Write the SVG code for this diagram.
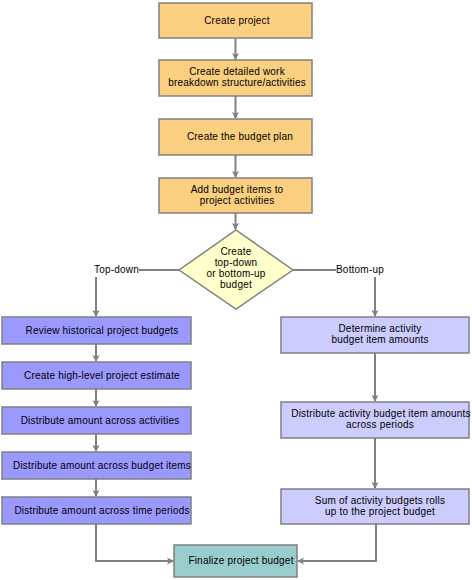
<svg xmlns="http://www.w3.org/2000/svg" width="472" height="580" viewBox="0 0 472 580">
<style>
.box{stroke:#808080;stroke-width:1.5}
.top{fill:#FACF7F}
.td{fill:#9999FF}
.bu{fill:#CCCCFF}
.fin{fill:#99CCCC}
.dia{fill:#FFFFCC}
text{font-family:"Liberation Sans",Arial,sans-serif;font-size:10px;letter-spacing:0.2px;fill:#000;text-anchor:middle}
.lbl{text-anchor:start}
.conn path{fill:none;stroke:#808080;stroke-width:2}
</style>
<defs>
<marker id="arr" markerUnits="userSpaceOnUse" markerWidth="8" markerHeight="8" refX="6" refY="4" orient="auto">
<path d="M0,0.5 L7,4 L0,7.5 L1.5,4 z" fill="#808080"/>
</marker>
</defs>
<rect width="472" height="580" fill="#fff"/>
<g class="conn">
<path d="M235.5,38 V59" marker-end="url(#arr)"/>
<path d="M235.5,96 V118" marker-end="url(#arr)"/>
<path d="M235.5,155 V177" marker-end="url(#arr)"/>
<path d="M235.5,213 V229" marker-end="url(#arr)"/>
<path d="M179,270 H139"/>
<path d="M96,277 V316" marker-end="url(#arr)"/>
<path d="M292,270 H336"/>
<path d="M375,277 V316" marker-end="url(#arr)"/>
<path d="M96,344 V361" marker-end="url(#arr)"/>
<path d="M96,389 V406" marker-end="url(#arr)"/>
<path d="M96,434 V451" marker-end="url(#arr)"/>
<path d="M96,479 V496" marker-end="url(#arr)"/>
<path d="M96,524 V561 H173" marker-end="url(#arr)"/>
<path d="M375,353 V401" marker-end="url(#arr)"/>
<path d="M375,438 V488" marker-end="url(#arr)"/>
<path d="M376,524 V561 H298" marker-end="url(#arr)"/>
</g>
<g id="n1"><rect class="box top" x="159" y="3" width="153" height="35"/><text x="237" y="24">Create project</text></g>
<g id="n2"><rect class="box top" x="159" y="60" width="153" height="36"/><text x="237" y="75">Create detailed work</text><text x="237" y="86">breakdown structure/activities</text></g>
<g id="n3"><rect class="box top" x="159" y="119" width="153" height="36"/><text x="240" y="140">Create the budget plan</text></g>
<g id="n4"><rect class="box top" x="159" y="178" width="153" height="35"/><text x="237" y="193">Add budget items to</text><text x="237" y="204">project activities</text></g>
<g id="n5"><polygon class="box dia" points="236,230 293,270 236,309 179,270"/><text x="236" y="255">Create</text><text x="236" y="266">top-down</text><text x="236" y="277">or bottom-up</text><text x="236" y="288">budget</text></g>
<text class="lbl" x="94" y="273">Top-down</text>
<text class="lbl" x="336" y="273">Bottom-up</text>
<g id="n6"><rect class="box td" x="2" y="317" width="189" height="27"/><text x="102" y="334">Review historical project budgets</text></g>
<g id="n7"><rect class="box td" x="2" y="362" width="189" height="27"/><text x="102" y="379">Create high-level project estimate</text></g>
<g id="n8"><rect class="box td" x="2" y="407" width="189" height="27"/><text x="100" y="424">Distribute amount across activities</text></g>
<g id="n9"><rect class="box td" x="2" y="452" width="189" height="27"/><text x="102" y="469">Distribute amount across budget items</text></g>
<g id="n10"><rect class="box td" x="2" y="497" width="189" height="27"/><text x="102" y="514">Distribute amount across time periods</text></g>
<g id="n11"><rect class="box bu" x="281" y="317" width="188" height="36"/><text x="380" y="332">Determine activity</text><text x="380" y="343">budget item amounts</text></g>
<g id="n12"><rect class="box bu" x="281" y="402" width="188" height="36"/><text x="381" y="417">Distribute activity budget item amounts</text><text x="380" y="428">across periods</text></g>
<g id="n13"><rect class="box bu" x="281" y="489" width="188" height="35"/><text x="380" y="504">Sum of activity budgets rolls</text><text x="380" y="515">up to the project budget</text></g>
<g id="n14"><rect class="box fin" x="174" y="545" width="123" height="32"/><text x="241" y="564">Finalize project budget</text></g>
</svg>
